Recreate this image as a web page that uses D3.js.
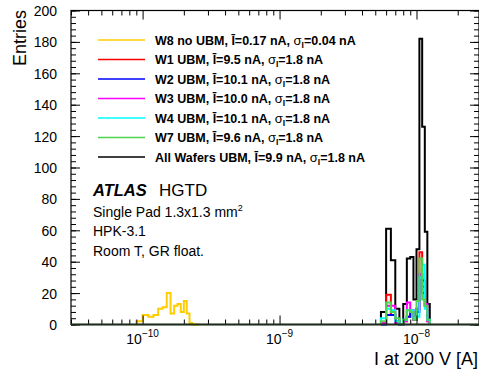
<!DOCTYPE html>
<html><head><meta charset="utf-8">
<script src="https://cdn.jsdelivr.net/npm/d3@7"></script>
<style>
body{margin:0;background:#fff}
svg{display:block}
text{font-family:"Liberation Sans",Arial,Helvetica,sans-serif}
</style>
</head><body>
<svg id="chart" width="479" height="369"></svg>
<script>
// ---------- data ----------
// bin edges in nA
const edgesUBM = [5.5,6.0,6.5,7.0,7.5,8.0,8.5,9.0,9.5,10.0,10.5,11.0,11.5,12.0,12.5];
const edgesW8  = [0.09,0.10,0.11,0.12,0.13,0.14,0.15,0.16,0.17,0.18,0.19,0.20,0.21,0.22,0.23,0.24,0.25,0.26];
// counts per bin
const countsW8  = [2,6,5,6,10,11,20,7,12,13,8,15,7,1,0,0,0];
const countsW1  = [1,19,6,1,0,2,5,8,3,10,46,20,12,2];
const countsW2  = [0,6,6,2,0,3,5,9,3,8,32,28,12,3];
const countsW3  = [1,12,12,1,0,2,14,9,3,10,32,24,13,2];
const countsW4  = [4,10,9,2,0,3,9,9,4,5,30,38,10,3];
const countsW7  = [2,14,8,4,0,3,9,8,3,15,42,16,12,3];
const countsAll = [8,61,41,10,0,13,42,43,16,48,182,126,59,13];
// legend
const seriesNames = ["W8 no UBM","W1 UBM","W2 UBM","W3 UBM","W4 UBM","W7 UBM","All Wafers UBM"];
const seriesMeans = ["0.17","9.5","10.1","10.0","10.1","9.6","9.9"];
const seriesSigmas = ["0.04","1.8","1.8","1.8","1.8","1.8","1.8"];
const seriesColors = ["#ffcc00","#ff0000","#0000ff","#ff00ff","#00ffff","#4cd44c","#000000"];
// axes
const yTickValues = [0,20,40,60,80,100,120,140,160,180,200];
const xMajorTicks = [1e-10,1e-9,1e-8];
const xMajorExp = ["-10","-9","-8"];
const xDomain = [3e-11, 2.86e-8];
const yDomain = [0, 200];

// ---------- drawing ----------
const svg = d3.select("#chart");
const L = 71, R = 479, T = 10.5, B = 324.5;
const x = d3.scaleLog().domain(xDomain).range([L, R]);
const y = d3.scaleLinear().domain(yDomain).range([B, T]);

const minorX = [];
for (let e = -11; e <= -8; e++) for (let k = 1; k <= 9; k++) {
  const v = k * Math.pow(10, e);
  if (v >= xDomain[0] && v <= xDomain[1] && k !== 1) minorX.push(v);
}
const minorY = d3.range(0, 201, 4);

function histPath(edges, counts, unit) {
  let p = `M${x(edges[0]*unit)},${y(0)}`;
  counts.forEach((c, i) => {
    p += `L${x(edges[i]*unit)},${y(c)}L${x(edges[i+1]*unit)},${y(c)}`;
  });
  p += `L${x(edges[counts.length]*unit)},${y(0)}`;
  return p;
}

// histograms
const plot = svg.append("g");
const hists = [
  {e: edgesW8, c: countsW8, col: seriesColors[0]},
  {e: edgesUBM, c: countsAll, col: seriesColors[6]},
  {e: edgesUBM, c: countsW1, col: seriesColors[1]},
  {e: edgesUBM, c: countsW2, col: seriesColors[2]},
  {e: edgesUBM, c: countsW3, col: seriesColors[3]},
  {e: edgesUBM, c: countsW4, col: seriesColors[4]},
  {e: edgesUBM, c: countsW7, col: seriesColors[5]}
];
plot.selectAll("path.h").data(hists).join("path")
  .attr("class","h")
  .attr("d", d => histPath(d.e, d.c, 1e-9))
  .attr("fill","none").attr("stroke", d => d.col).attr("stroke-width", 2)
  .attr("stroke-linejoin","miter");

function styleAxis(g){ g.select(".domain").remove(); g.selectAll("line").attr("stroke","#000").attr("stroke-width",1); }

// left
svg.append("g").attr("transform",`translate(${L},0)`)
  .call(d3.axisLeft(y).tickValues(minorY).tickSize(-5).tickFormat(""))
  .call(styleAxis);
svg.append("g").attr("transform",`translate(${L},0)`)
  .call(d3.axisLeft(y).tickValues(yTickValues).tickSize(-9).tickPadding(14).tickFormat(d3.format("d")))
  .call(styleAxis)
  .call(g => g.selectAll("text").attr("font-size",14).attr("fill","#000").attr("dy","0.36em"));
// right
svg.append("g").attr("transform",`translate(${R},0)`)
  .call(d3.axisRight(y).tickValues(minorY).tickSize(-5).tickFormat(""))
  .call(styleAxis);
svg.append("g").attr("transform",`translate(${R},0)`)
  .call(d3.axisRight(y).tickValues(yTickValues).tickSize(-9).tickFormat(""))
  .call(styleAxis);
// bottom
svg.append("g").attr("transform",`translate(0,${B})`)
  .call(d3.axisBottom(x).tickValues(minorX).tickSize(-5).tickFormat(""))
  .call(styleAxis);
svg.append("g").attr("transform",`translate(0,${B})`)
  .call(d3.axisBottom(x).tickValues(xMajorTicks).tickSize(-9).tickFormat(""))
  .call(styleAxis);
// top
svg.append("g").attr("transform",`translate(0,${T})`)
  .call(d3.axisTop(x).tickValues(minorX).tickSize(-5).tickFormat(""))
  .call(styleAxis);
svg.append("g").attr("transform",`translate(0,${T})`)
  .call(d3.axisTop(x).tickValues(xMajorTicks).tickSize(-9).tickFormat(""))
  .call(styleAxis);

// x major labels with superscripts
xMajorTicks.forEach((v, i) => {
  const t = svg.append("text").attr("x", x(v)).attr("y", 344)
    .attr("text-anchor","middle").attr("font-size",14).attr("fill","#000");
  t.append("tspan").text("10");
  t.append("tspan").attr("font-size",10).attr("dy",-7).text("\u2212" + xMajorExp[i].slice(1));
});

// frame
svg.append("rect").attr("x",L).attr("y",T).attr("width",R-L).attr("height",B-T)
  .attr("fill","none").attr("stroke","#000").attr("stroke-width",1.2);
// dark baseline
svg.append("line").attr("x1",L).attr("x2",R).attr("y1",B).attr("y2",B)
  .attr("stroke","#1e2e1e").attr("stroke-width",2);

// axis titles
svg.append("text").attr("x",478).attr("y",365).attr("text-anchor","end")
  .attr("font-size",18).attr("fill","#000").text("I at 200 V [A]");
svg.append("text").attr("transform","translate(26,10) rotate(-90)").attr("text-anchor","end")
  .attr("font-size",18).attr("fill","#000").text("Entries");

// legend
const lg = svg.append("g");
const rowY = d3.range(seriesNames.length).map(i => 40 + i * 19.5);
seriesNames.forEach((name, i) => {
  lg.append("line").attr("x1",98).attr("x2",145).attr("y1",rowY[i]).attr("y2",rowY[i])
    .attr("stroke",seriesColors[i]).attr("stroke-width",1.5);
  const t = lg.append("text").attr("x",155).attr("y",rowY[i]+4.5)
    .attr("font-size",12.5).attr("font-weight","bold").attr("fill","#000");
  t.append("tspan").text(`${name}, \u012A=${seriesMeans[i]} nA, `);
  t.append("tspan").attr("font-weight","normal").attr("font-size",13).text("\u03C3");
  t.append("tspan").attr("font-size",8.5).attr("dy",3).text("I");
  t.append("tspan").attr("dy",-3).text(`=${seriesSigmas[i]} nA`);
});

// labels
const ta = svg.append("text").attr("x",93).attr("y",196).attr("fill","#000");
ta.append("tspan").attr("font-weight","bold").attr("font-style","italic").attr("font-size",16.5).text("ATLAS");
ta.append("tspan").attr("x",159).attr("font-size",17).text("HGTD");
const t2 = svg.append("text").attr("x",93).attr("y",216.5).attr("font-size",14).attr("fill","#000");
t2.append("tspan").text("Single Pad 1.3x1.3 mm");
t2.append("tspan").attr("font-size",9).attr("dy",-6).text("2");
svg.append("text").attr("x",93).attr("y",236).attr("font-size",14).attr("fill","#000").text("HPK-3.1");
svg.append("text").attr("x",93).attr("y",255.5).attr("font-size",14).attr("fill","#000").text("Room T, GR float.");
</script>
</body></html>
